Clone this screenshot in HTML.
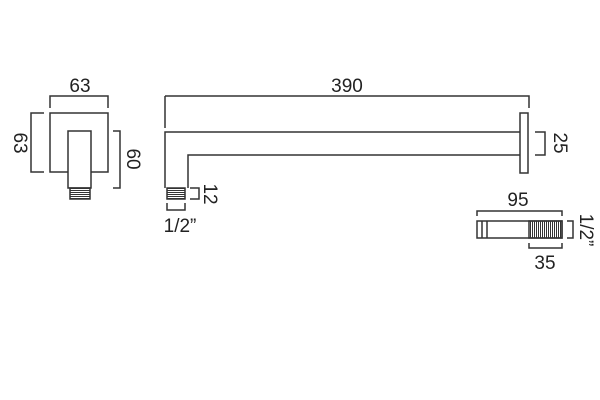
<!DOCTYPE html>
<html><head><style>body{margin:0;background:#fff}svg{display:block}</style></head><body>
<svg width="600" height="400" viewBox="0 0 600 400" xmlns="http://www.w3.org/2000/svg">
<defs>
<pattern id="th" width="2" height="2" patternUnits="userSpaceOnUse"><rect width="2" height="1" fill="#333"/></pattern>
<pattern id="tv" width="2" height="2" patternUnits="userSpaceOnUse"><rect width="1" height="2" fill="#333"/></pattern>
</defs>
<g fill="none" stroke="#333" stroke-width="1.5">
<rect x="50" y="113" width="58" height="59"/>
<rect x="68" y="131" width="23" height="57" fill="#fff"/>
<rect x="70" y="188" width="20" height="11" fill="url(#th)"/>
<polyline points="50,108 50,96 108,96 108,108"/>
<polyline points="44,113 31,113 31,172 44,172"/>
<polyline points="113,131 120,131 120,188 113,188"/>
<polyline points="165,96 529,96 529,108"/>
<line x1="165" y1="96" x2="165" y2="128"/>
<polyline points="520,132 165,132 165,188"/>
<polyline points="520,155 188,155 188,188"/>
<rect x="520" y="113" width="8" height="60" fill="#fff"/>
<rect x="167" y="188" width="18" height="11" fill="url(#th)"/>
<polyline points="190,188 199,188 199,199 190,199"/>
<polyline points="167,203 167,210 185,210 185,203"/>
<polyline points="535,132 545,132 545,155 535,155"/>
<polyline points="477,216 477,211 562,211 562,216"/>
<rect x="477" y="221" width="85" height="17"/>
<rect x="529" y="221" width="33" height="17" fill="url(#tv)"/>
<line x1="482" y1="221" x2="482" y2="238"/>
<line x1="487" y1="221" x2="487" y2="238"/>
<polyline points="529,243 529,248 562,248 562,243"/>
<polyline points="567,221 573,221 573,238 567,238"/>
</g>
<g font-family="Liberation Sans, sans-serif" font-size="19" fill="#222" text-anchor="middle">
<text x="80" y="92">63</text>
<text x="347" y="92">390</text>
<text transform="translate(14,143) rotate(90)">63</text>
<text transform="translate(127,159) rotate(90)">60</text>
<text transform="translate(554,143) rotate(90)">25</text>
<text transform="translate(204,194) rotate(90)">12</text>
<text x="180" y="232">1/2”</text>
<text x="518" y="206">95</text>
<text x="545" y="269">35</text>
<text transform="translate(580,230) rotate(90)">1/2”</text>
</g>
</svg>
</body></html>
